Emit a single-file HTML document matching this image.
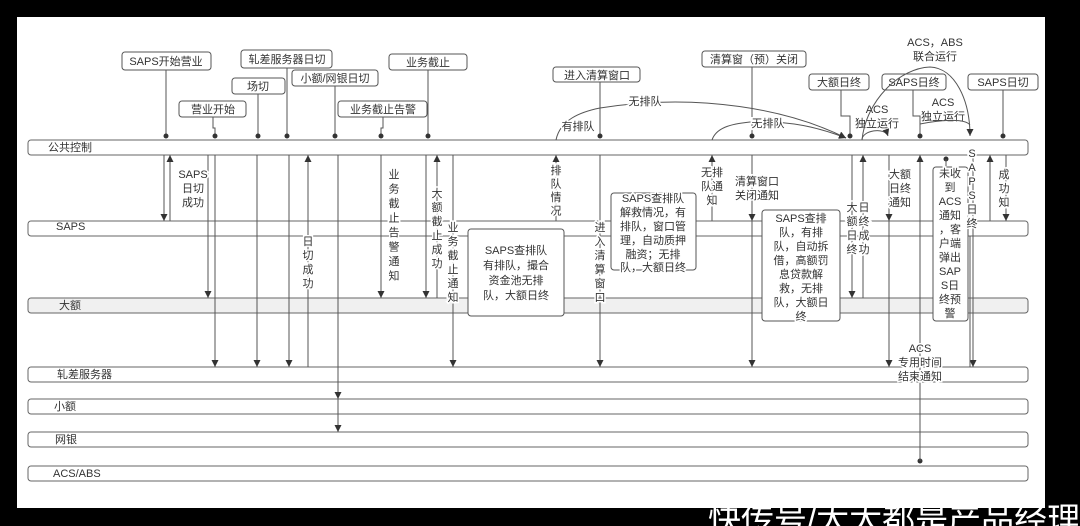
<!DOCTYPE html>
<html><head><meta charset="utf-8"><style>
html,body{margin:0;padding:0;background:#000;}
svg{display:block;}
text{font-family:"Liberation Sans","Noto Sans CJK SC",sans-serif;font-size:11px;fill:#333;}
.v{text-anchor:middle;}
</style></head><body>
<svg width="1080" height="526" viewBox="0 0 1080 526" xmlns="http://www.w3.org/2000/svg">
<defs>
<marker id="a" viewBox="0 0 10 10" refX="10" refY="5" markerWidth="7" markerHeight="7" orient="auto"><path d="M0,0L10,5L0,10z" fill="#333"/></marker>
</defs>
<rect x="17" y="17" width="1028" height="491" fill="#fff"/>
<g fill="none" stroke="#666" stroke-width="1">
<rect x="28" y="140" width="1000" height="15" rx="3"/>
<rect x="28" y="221" width="1000" height="15" rx="3"/>
<rect x="28" y="298" width="1000" height="15" rx="3" fill="#f0f0f0"/>
<rect x="28" y="367" width="1000" height="15" rx="3"/>
<rect x="28" y="399" width="1000" height="15" rx="3"/>
<rect x="28" y="432" width="1000" height="15" rx="3"/>
<rect x="28" y="466" width="1000" height="15" rx="3"/>
</g>
<text x="48" y="151">公共控制</text>
<text x="56" y="230">SAPS</text>
<text x="59" y="309">大额</text>
<text x="57" y="378">轧差服务器</text>
<text x="54" y="410">小额</text>
<text x="55" y="443">网银</text>
<text x="53" y="477">ACS/ABS</text>

<g fill="#fff" stroke="#555">
<rect x="122" y="52" width="89" height="18" rx="3"/>
<rect x="241" y="50" width="91" height="18" rx="3"/>
<rect x="232" y="78" width="53" height="16" rx="3"/>
<rect x="292" y="70" width="86" height="16" rx="3"/>
<rect x="389" y="54" width="78" height="16" rx="3"/>
<rect x="179" y="101" width="67" height="16" rx="3"/>
<rect x="338" y="101" width="89" height="16" rx="3"/>
<rect x="553" y="67" width="87" height="15" rx="3"/>
<rect x="702" y="51" width="104" height="16" rx="3"/>
<rect x="809" y="74" width="60" height="16" rx="3"/>
<rect x="882" y="74" width="64" height="16" rx="3"/>
<rect x="968" y="74" width="70" height="16" rx="3"/>
</g>
<g class="v">
<text x="166" y="65" class="v">SAPS开始营业</text>
<text x="287" y="63" class="v">轧差服务器日切</text>
<text x="258" y="90" class="v">场切</text>
<text x="335" y="82" class="v">小额/网银日切</text>
<text x="428" y="66" class="v">业务截止</text>
<text x="213" y="113" class="v">营业开始</text>
<text x="383" y="113" class="v">业务截止告警</text>
<text x="597" y="79" class="v">进入清算窗口</text>
<text x="754" y="63" class="v">清算窗（预）关闭</text>
<text x="839" y="86" class="v">大额日终</text>
<text x="914" y="86" class="v">SAPS日终</text>
<text x="1003" y="86" class="v">SAPS日切</text>
<text x="935" y="46" class="v">ACS，ABS</text>
<text x="935" y="60" class="v">联合运行</text>
<text x="877" y="113" class="v">ACS</text>
<text x="877" y="127" class="v">独立运行</text>
<text x="943" y="106" class="v">ACS</text>
<text x="943" y="120" class="v">独立运行</text>
</g>
<g stroke="#555" fill="none">
<path d="M166 70V136M287 68V136M258 94V136M335 86V136M428 70V136M213 117V128H215V136M383 117V128H381V136"/>
<path d="M600 82V136M752 67V136M841 90V116H850V136M913 90V116H920V136M1003 90V136"/>
<path d="M556 140C560 120 580 112 600 108C700 92 790 110 846 138" marker-end="url(#a)"/>
<path d="M712 140C716 128 730 124 750 122C790 120 820 128 846 138" marker-end="url(#a)"/>
<path d="M862 140C866 100 900 68 930 67C955 68 970 100 970 136" marker-end="url(#a)"/>
<path d="M862 140C862 130 885 127 888 136" marker-end="url(#a)"/>
<path d="M920 124C940 120 965 118 970 125"/>
</g>
<g fill="#333">
<circle cx="166" cy="136" r="2.5"/><circle cx="215" cy="136" r="2.5"/><circle cx="258" cy="136" r="2.5"/><circle cx="287" cy="136" r="2.5"/><circle cx="335" cy="136" r="2.5"/><circle cx="381" cy="136" r="2.5"/><circle cx="428" cy="136" r="2.5"/>
<circle cx="600" cy="136" r="2.5"/><circle cx="752" cy="136" r="2.5"/><circle cx="850" cy="136" r="2.5"/><circle cx="920" cy="136" r="2.5"/><circle cx="1003" cy="136" r="2.5"/>
<circle cx="946" cy="159" r="2.5"/><circle cx="920" cy="461" r="2.5"/>
</g>
<text x="645" y="105" class="v" style="paint-order:stroke;stroke:#fff;stroke-width:3">无排队</text>
<text x="578" y="130" class="v" style="paint-order:stroke;stroke:#fff;stroke-width:3">有排队</text>
<text x="768" y="127" class="v" style="paint-order:stroke;stroke:#fff;stroke-width:3">无排队</text>

<g stroke="#555" fill="none" marker-end="url(#a)">
<path d="M164 155V221"/><path d="M170 221V155"/>
<path d="M208 155V298"/><path d="M215 155V367"/>
<path d="M257 155V367"/><path d="M289 155V367"/>
<path d="M308 367V155"/>
<path d="M338 155V399"/><path d="M338 399V432"/>
<path d="M381 155V298"/>
<path d="M426 155V298"/><path d="M437 298V155"/>
<path d="M453 155V367"/>
<path d="M556 221V155"/>
<path d="M600 155V367"/>
<path d="M712 221V155"/>
<path d="M752 155V221"/><path d="M752 221V367"/>
<path d="M852 155V298"/><path d="M863 298V155"/>
<path d="M889 155V221"/><path d="M889 221V367"/>
<path d="M920 461V155"/>
<path d="M973 155V367"/>
<path d="M990 221V155"/><path d="M1006 155V221"/>
</g>
<path d="M946 159V167M970 236V367" stroke="#555" fill="none"/>

<g fill="#fff" stroke="#555">
<rect x="468" y="229" width="96" height="87" rx="3"/>
<rect x="611" y="193" width="85" height="77" rx="3"/>
<rect x="762" y="210" width="78" height="111" rx="3"/>
<rect x="933" y="167" width="35" height="154" rx="3"/>
</g>
<g class="v" style="paint-order:stroke;stroke:#fff;stroke-width:3">
<text x="516" y="254" class="v">SAPS查排队</text><text x="516" y="269" class="v">有排队，撮合</text><text x="516" y="284" class="v">资金池无排</text><text x="516" y="299" class="v">队，大额日终</text>
<text x="653" y="202" class="v">SAPS查排队</text><text x="653" y="216" class="v">解救情况，有</text><text x="653" y="230" class="v">排队，窗口管</text><text x="653" y="244" class="v">理，自动质押</text><text x="653" y="258" class="v">融资；无排</text><text x="653" y="271" class="v">队，大额日终</text>
<text x="801" y="222" class="v">SAPS查排</text><text x="801" y="236" class="v">队，有排</text><text x="801" y="250" class="v">队，自动拆</text><text x="801" y="264" class="v">借，高额罚</text><text x="801" y="278" class="v">息贷款解</text><text x="801" y="292" class="v">救，无排</text><text x="801" y="306" class="v">队，大额日</text><text x="801" y="320" class="v">终</text>
<text x="950" y="177" class="v">未收</text><text x="950" y="191" class="v">到</text><text x="950" y="205" class="v">ACS</text><text x="950" y="219" class="v">通知</text><text x="950" y="233" class="v">，客</text><text x="950" y="247" class="v">户端</text><text x="950" y="261" class="v">弹出</text><text x="950" y="275" class="v">SAP</text><text x="950" y="289" class="v">S日</text><text x="950" y="303" class="v">终预</text><text x="950" y="317" class="v">警</text>

<text x="193" y="178" class="v">SAPS</text><text x="193" y="192" class="v">日切</text><text x="193" y="206" class="v">成功</text>
<text x="712" y="176" class="v">无排</text><text x="712" y="190" class="v">队通</text><text x="712" y="204" class="v">知</text>
<text x="757" y="185" class="v">清算窗口</text><text x="757" y="199" class="v">关闭通知</text>
<text x="900" y="178" class="v">大额</text><text x="900" y="192" class="v">日终</text><text x="900" y="206" class="v">通知</text>
<text x="920" y="352" class="v">ACS</text><text x="920" y="366" class="v">专用时间</text><text x="920" y="380" class="v">结束通知</text>
</g>
<g style="paint-order:stroke;stroke:#fff;stroke-width:3">
<text class="v"><tspan x="394" y="178">业</tspan><tspan x="394" dy="14.5">务</tspan><tspan x="394" dy="14.5">截</tspan><tspan x="394" dy="14.5">止</tspan><tspan x="394" dy="14.5">告</tspan><tspan x="394" dy="14.5">警</tspan><tspan x="394" dy="14.5">通</tspan><tspan x="394" dy="14.5">知</tspan></text>
<text class="v"><tspan x="437" y="197">大</tspan><tspan x="437" dy="14">额</tspan><tspan x="437" dy="14">截</tspan><tspan x="437" dy="14">止</tspan><tspan x="437" dy="14">成</tspan><tspan x="437" dy="14">功</tspan></text>
<text class="v"><tspan x="453" y="231">业</tspan><tspan x="453" dy="14">务</tspan><tspan x="453" dy="14">截</tspan><tspan x="453" dy="14">止</tspan><tspan x="453" dy="14">通</tspan><tspan x="453" dy="14">知</tspan></text>
<text class="v"><tspan x="308" y="245">日</tspan><tspan x="308" dy="14">切</tspan><tspan x="308" dy="14">成</tspan><tspan x="308" dy="14">功</tspan></text>
<text class="v"><tspan x="556" y="174">排</tspan><tspan x="556" dy="13.5">队</tspan><tspan x="556" dy="13.5">情</tspan><tspan x="556" dy="13.5">况</tspan></text>
<text class="v"><tspan x="600" y="231">进</tspan><tspan x="600" dy="14">入</tspan><tspan x="600" dy="14">清</tspan><tspan x="600" dy="14">算</tspan><tspan x="600" dy="14">窗</tspan><tspan x="600" dy="14">口</tspan></text>
<text class="v"><tspan x="852" y="211">大</tspan><tspan x="852" dy="14">额</tspan><tspan x="852" dy="14">日</tspan><tspan x="852" dy="14">终</tspan></text>
<text class="v"><tspan x="864" y="211">日</tspan><tspan x="864" dy="14">终</tspan><tspan x="864" dy="14">成</tspan><tspan x="864" dy="14">功</tspan></text>
<text class="v"><tspan x="972" y="157">S</tspan><tspan x="972" dy="14">A</tspan><tspan x="972" dy="14">P</tspan><tspan x="972" dy="14">S</tspan><tspan x="972" dy="14">日</tspan><tspan x="972" dy="14">终</tspan></text>
<text class="v"><tspan x="1004" y="178">成</tspan><tspan x="1004" dy="14">功</tspan><tspan x="1004" dy="14">知</tspan></text>
</g>
<text x="708" y="531" style="font-size:33px;fill:#fff;">快传号/大大都是产品经理</text>
</svg>
</body></html>
